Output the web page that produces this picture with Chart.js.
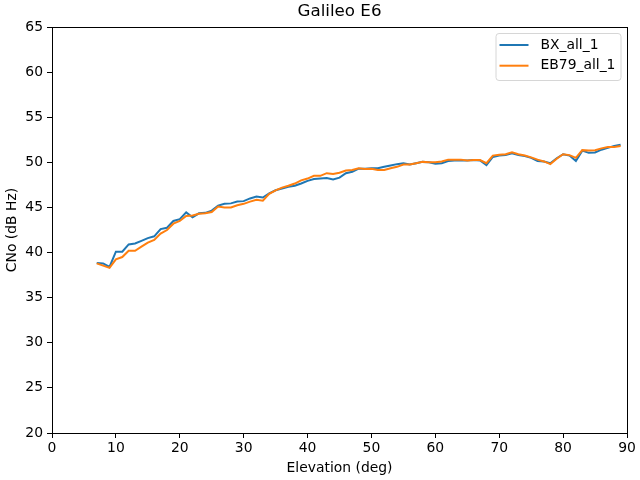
<!DOCTYPE html>
<html>
<head>
<meta charset="utf-8">
<script src="https://cdn.jsdelivr.net/npm/chart.js@4"></script>
<style>
  html, body { margin: 0; padding: 0; background: #fff; }
  #wrap { width: 640px; height: 480px; }
</style>
</head>
<body>
<div id="wrap"><canvas id="cnoChart" width="640" height="480"></canvas></div>
<script>
// elevation (deg)
const elevation = [7, 8, 9, 10, 11, 12, 13, 14, 15, 16, 17, 18, 19, 20, 21, 22, 23, 24, 25, 26,
  27, 28, 29, 30, 31, 32, 33, 34, 35, 36, 37, 38, 39, 40, 41, 42, 43, 44, 45, 46,
  47, 48, 49, 50, 51, 52, 53, 54, 55, 56, 57, 58, 59, 60, 61, 62, 63, 64, 65, 66,
  67, 68, 69, 70, 71, 72, 73, 74, 75, 76, 77, 78, 79, 80, 81, 82, 83, 84, 85, 86,
  87, 88, 89];

// CNo BX_all_1 (dB Hz)
const bxAll1 = [38.85, 38.8, 38.4, 40.1, 40.1, 40.9, 41.0, 41.3, 41.6, 41.8, 42.6, 42.75, 43.5, 43.7, 44.45, 43.9, 44.35, 44.4, 44.65, 45.2,
  45.4, 45.45, 45.65, 45.7, 46.0, 46.2, 46.1, 46.55, 46.9, 47.1, 47.3, 47.4, 47.65, 47.95, 48.15, 48.2, 48.25, 48.1, 48.3, 48.8,
  48.95, 49.3, 49.3, 49.35, 49.35, 49.5, 49.65, 49.8, 49.9, 49.75, 49.9, 50.05, 50.0, 49.85, 49.9, 50.15, 50.2, 50.2, 50.2, 50.25,
  50.2, 49.7, 50.6, 50.75, 50.8, 51.0, 50.8, 50.7, 50.5, 50.15, 50.1, 49.9, 50.45, 50.9, 50.75, 50.15, 51.3, 51.05, 51.1, 51.4,
  51.6, 51.8, 51.95];

// CNo EB79_all_1 (dB Hz)
const eb79All1 = [38.8, 38.55, 38.3, 39.25, 39.5, 40.2, 40.2, 40.65, 41.1, 41.4, 42.1, 42.5, 43.2, 43.5, 44.05, 44.1, 44.3, 44.35, 44.5, 45.1,
  45.0, 45.0, 45.25, 45.4, 45.65, 45.85, 45.75, 46.5, 46.9, 47.2, 47.4, 47.65, 48.0, 48.2, 48.5, 48.5, 48.8, 48.7, 48.85, 49.1,
  49.15, 49.35, 49.25, 49.3, 49.15, 49.15, 49.35, 49.5, 49.75, 49.75, 49.9, 50.05, 50.0, 50.0, 50.1, 50.3, 50.3, 50.3, 50.2, 50.25,
  50.25, 49.9, 50.75, 50.85, 50.9, 51.1, 50.9, 50.75, 50.55, 50.3, 50.1, 49.8, 50.4, 50.9, 50.8, 50.5, 51.35, 51.3, 51.35, 51.55,
  51.7, 51.7, 51.8];

const seriesNames = ['BX_all_1', 'EB79_all_1'];
const seriesColors = ['#1f77b4', '#ff7f0e'];

const chartTitle = 'Galileo E6';
const xLabel = 'Elevation (deg)';
const yLabel = 'CNo (dB Hz)';

const FONT = 'DejaVu Sans';

function toPoints(xs, ys) {
    return xs.map((x, i) => ({ x: x, y: ys[i] }));
}

// cadre, titre et legende facon matplotlib
const framePlugin = {
    id: 'frame',
    afterDraw(chart) {
        const { ctx, chartArea: a } = chart;
        ctx.save();
        ctx.strokeStyle = '#000';
        ctx.lineWidth = 1;
        ctx.strokeRect(Math.round(a.left) + 0.5, Math.round(a.top) + 0.5,
            Math.round(a.right - a.left), Math.round(a.bottom - a.top));

        // titre
        ctx.fillStyle = '#000';
        ctx.font = '16.7px "' + FONT + '"';
        ctx.textAlign = 'center';
        ctx.textBaseline = 'middle';
        ctx.fillText(chartTitle, (a.left + a.right) / 2, 12);

        // legende
        const bx = a.right - 131.5, by = a.top + 6, bw = 125, bh = 47;
        ctx.beginPath();
        ctx.roundRect(bx + 0.5, by + 0.5, bw, bh, 3);
        ctx.fillStyle = 'rgba(255,255,255,0.8)';
        ctx.fill();
        ctx.strokeStyle = '#d6d6d6';
        ctx.stroke();
        ctx.font = '13.9px "' + FONT + '"';
        ctx.textAlign = 'left';
        seriesNames.forEach((name, i) => {
            const ly = by + 12 + i * 20.7;
            ctx.beginPath();
            ctx.moveTo(bx + 4, ly);
            ctx.lineTo(bx + 33, ly);
            ctx.strokeStyle = seriesColors[i];
            ctx.lineWidth = 2;
            ctx.stroke();
            ctx.fillStyle = '#000';
            ctx.fillText(name, bx + 45, ly);
        });
        ctx.restore();
    }
};

const cnoChart = new Chart(document.getElementById('cnoChart'), {
    type: 'line',
    data: {
        datasets: [{
            label: seriesNames[0],
            data: toPoints(elevation, bxAll1),
            borderColor: seriesColors[0],
            backgroundColor: seriesColors[0],
            borderWidth: 2,
            pointRadius: 0,
            tension: 0,
            order: 1
        }, {
            label: seriesNames[1],
            data: toPoints(elevation, eb79All1),
            borderColor: seriesColors[1],
            backgroundColor: seriesColors[1],
            borderWidth: 2,
            pointRadius: 0,
            tension: 0,
            order: 0
        }]
    },
    options: {
        responsive: false,
        animation: false,
        events: [],
        layout: { padding: { top: 27, right: 13, left: 0, bottom: 0 } },
        plugins: {
            legend: { display: false },
            title: { display: false },
            tooltip: { enabled: false }
        },
        scales: {
            x: {
                type: 'linear',
                min: 0,
                max: 90,
                afterFit(scale) { scale.height = 47; },
                ticks: {
                    stepSize: 10,
                    color: '#000',
                    padding: 2,
                    maxRotation: 0,
                    font: { family: FONT, size: 13.9 }
                },
                grid: {
                    drawOnChartArea: false,
                    drawTicks: true,
                    tickLength: 5,
                    color: '#000'
                },
                border: { display: true, color: '#000' },
                title: {
                    display: true,
                    text: xLabel,
                    color: '#000',
                    font: { family: FONT, size: 13.9 },
                    padding: { top: 0, bottom: 3 }
                }
            },
            y: {
                type: 'linear',
                min: 20,
                max: 65,
                afterFit(scale) { scale.width = 52; },
                ticks: {
                    stepSize: 5,
                    color: '#000',
                    padding: 4,
                    font: { family: FONT, size: 13.9 }
                },
                grid: {
                    drawOnChartArea: false,
                    drawTicks: true,
                    tickLength: 5,
                    color: '#000'
                },
                border: { display: true, color: '#000' },
                title: {
                    display: true,
                    text: yLabel,
                    color: '#000',
                    font: { family: FONT, size: 13.9 },
                    padding: { top: 4, bottom: 0 }
                }
            }
        }
    },
    plugins: [framePlugin]
});
</script>
</body>
</html>
